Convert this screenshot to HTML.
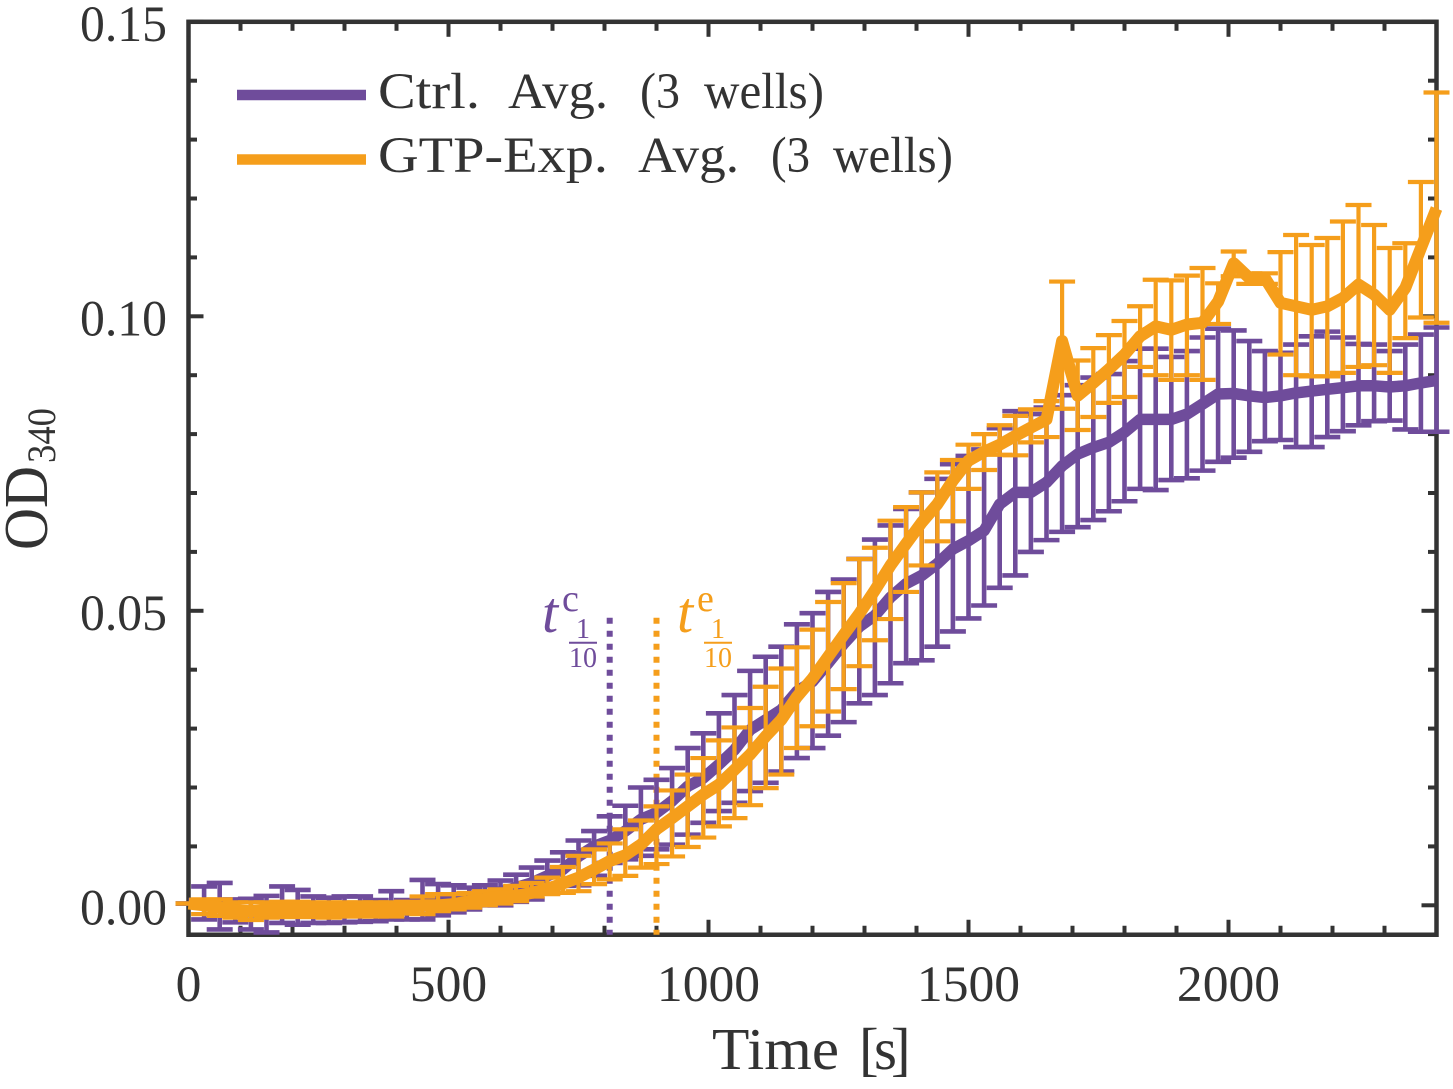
<!DOCTYPE html>
<html lang="en">
<head>
<meta charset="utf-8">
<title>OD340 vs Time</title>
<style>
html,body{margin:0;padding:0;background:#fff;width:1453px;height:1089px;overflow:hidden}
svg{display:block}
text{font-family:"Liberation Serif",serif;fill:#333}
</style>
</head>
<body>
<svg id="chart" xmlns="http://www.w3.org/2000/svg" width="1453" height="1089" viewBox="0 0 1453 1089">
  <g id="axes"></g>
  <g id="markers"></g>
  <g id="series"></g>

  <g>
    <line x1="237" x2="366" y1="95" y2="95" stroke="#6f4c9b" stroke-width="10.5"/>
    <g>
      <text x="378" y="108" font-size="51" textLength="102" lengthAdjust="spacingAndGlyphs">Ctrl.</text>
      <text x="508" y="108" font-size="51" textLength="100" lengthAdjust="spacingAndGlyphs">Avg.</text>
      <text x="640" y="108" font-size="51" textLength="40" lengthAdjust="spacingAndGlyphs">(3</text>
      <text x="704" y="108" font-size="51" textLength="120" lengthAdjust="spacingAndGlyphs">wells)</text>
    </g>
    <line x1="237" x2="366" y1="159.5" y2="159.5" stroke="#f59e1b" stroke-width="10.5"/>
    <g>
      <text x="378" y="172" font-size="51" textLength="230" lengthAdjust="spacingAndGlyphs">GTP-Exp.</text>
      <text x="638" y="172" font-size="51" textLength="101" lengthAdjust="spacingAndGlyphs">Avg.</text>
      <text x="771" y="172" font-size="51" textLength="39" lengthAdjust="spacingAndGlyphs">(3</text>
      <text x="833" y="172" font-size="51" textLength="120" lengthAdjust="spacingAndGlyphs">wells)</text>
    </g>
  </g>

  <g>
    <text x="542" y="632" font-size="58" font-style="italic" style="fill:#6f4c9b">t</text>
    <text x="562" y="611" font-size="38" style="fill:#6f4c9b">c</text>
    <text x="583" y="638" font-size="28" text-anchor="middle" style="fill:#6f4c9b">1</text>
    <line x1="569" x2="597" y1="642.7" y2="642.7" stroke="#6f4c9b" stroke-width="2"/>
    <text x="583" y="667" font-size="28" text-anchor="middle" style="fill:#6f4c9b">10</text>
  </g>
  <g>
    <text x="677" y="632" font-size="58" font-style="italic" style="fill:#f59e1b">t</text>
    <text x="697" y="611" font-size="38" style="fill:#f59e1b">e</text>
    <text x="718" y="638" font-size="28" text-anchor="middle" style="fill:#f59e1b">1</text>
    <line x1="704" x2="732" y1="642.7" y2="642.7" stroke="#f59e1b" stroke-width="2"/>
    <text x="718" y="667" font-size="28" text-anchor="middle" style="fill:#f59e1b">10</text>
  </g>

  <g>
    <text x="712" y="1069" font-size="59" textLength="127" lengthAdjust="spacingAndGlyphs">Time</text>
    <text x="859 874 891" y="1069" font-size="59">[s]</text>
  </g>
  <g>
    <text transform="translate(47,550) rotate(-90)" font-size="62" textLength="84" lengthAdjust="spacingAndGlyphs">OD</text>
    <text transform="translate(55,463) rotate(-90)" font-size="40" textLength="55" lengthAdjust="spacingAndGlyphs">340</text>
  </g>
</svg>

<script>
// Values. OD values are in milli-OD (OD x 1000).
const timesSec = [
  0,30,60,90,120,150,180,210,240,270,
  300,330,360,390,420,450,480,510,540,570,
  600,630,660,690,720,750,780,810,840,870,
  900,930,960,990,1020,1050,1080,1110,1140,1170,
  1200,1230,1260,1290,1320,1350,1380,1410,1440,1470,
  1500,1530,1560,1590,1620,1650,1680,1710,1740,1770,
  1800,1830,1860,1890,1920,1950,1980,2010,2040,2070,
  2100,2130,2160,2190,2220,2250,2280,2310,2340,2370,
  2400];
const ctrlMean = [
  .3,.3,0,-.8,-1.1,-1.1,-.85,-.85,-.85,-.85,
  -.85,-.85,-.85,-.4,-.4,.3,.7,1,1.3,1.6,
  2.3,3,3.8,5,6.1,8.3,10,11,12.6,14.6,
  15.7,17.7,20.2,21.6,23.9,26.4,29.8,31.5,33.2,36.3,
  38,41.1,44.4,47.3,49.2,52.3,54.6,56,58,60.5,
  61.9,63.6,68.1,70.1,70.1,71.8,74.6,76.6,77.7,78.6,
  80.3,82.5,82.5,82.5,83.4,85.1,86.8,86.9,86.5,86.2,
  86.5,87,87.3,87.6,87.9,88.2,88.2,88,88.2,88.7,
  89.1];
const ctrlUpper = [
  .3,3.2,3.8,1,1.1,1.6,3.2,2.6,1.5,1.3,
  1.5,1.5,.9,2.4,.9,4.3,3.6,3.4,3,3.4,
  4.2,5.2,6.4,7.6,9,11,12.6,15.1,16.9,20,
  21.3,23.3,26.7,29.2,32.6,35.7,39.8,42.2,43.9,47.7,
  49.6,53.2,55.3,58.8,62.1,64.5,67.3,70.1,72.4,74.9,
  76.3,77.4,81,83.9,83.4,84.5,86.6,88.3,89.6,90.2,
  92.4,94.5,94.5,93.1,94.1,96.4,97.9,97.6,95.8,94.1,
  93.8,95.2,96.6,97.4,96.4,95.3,95.2,94.1,95.2,96.9,
  98.1];
const ctrlLower = [
  .3,-2.4,-4.1,-2.9,-4.1,-4.6,-3,-3.3,-3,-3,
  -2.9,-2.8,-2.7,-2.4,-2.4,-2.4,-1.7,-1.2,-.7,0,
  0,.6,1,2.1,3.3,3.4,5,7.2,7.8,8.4,
  9.5,10.3,12,14,16,17.4,19.4,20.8,22.7,25,
  26.7,28.8,31.1,34.3,35.7,37.7,41.1,41.6,43.9,46.5,
  48.7,50.9,53.9,56,60,62,63.4,64.2,65.4,66.9,
  68.6,70.7,70.5,72.2,72.5,73.8,75.3,76,77,78.8,
  79,77.8,77.8,79.5,80.5,81.5,82.2,82.3,80.8,80.4,
  80.4];
const expMean = [
  .3,0,-.4,-.85,-1,-.8,-.7,-.7,-.8,-.8,
  -.7,-.7,-.7,-.7,-.4,0,0,.2,.7,1.1,
  1.5,1.6,2.1,2.8,3.7,4.7,6.1,7.5,8.5,10.3,
  12.9,14.8,16.8,18.8,20.5,23,25.6,28.7,31.5,35.4,
  38.5,42.2,45.9,49.5,53.5,57.7,61.4,65,68.1,72.1,
  75.5,77,78.2,79.7,81.1,82.5,95.8,86.5,88.7,91,
  93.5,96.6,98.3,97.7,98.6,98.9,102.5,109,106.5,106.5,
  102.3,101.7,101.1,101.7,103.1,105.4,103.7,101.1,104.8,111.6,
  118.3];
const expUpper = [
  .3,1,1,.5,.5,.5,.6,.6,.5,.5,
  .5,.5,.5,.5,.6,1.5,1.9,1.9,2.1,2.4,
  2.7,3.3,3.8,4.7,6.5,8.4,9.5,10.5,12.9,14.4,
  16.8,19.5,22.2,25,28,30.2,33.5,37.1,40.2,43.8,
  46.8,51.5,54.7,58.8,60.7,65.3,67.6,70.1,73.5,75.6,
  78.2,80,81.5,83.1,84.2,85.6,105.9,92.5,94.6,96.8,
  99.2,101.7,106.2,106.1,106.9,108.2,105.6,111,107.3,107.3,
  110.9,113.8,112.1,113.3,116.1,118.9,115.5,111.6,112.4,122.8,
  138];
const expLower = [
  .3,-1.5,-1.8,-2.1,-2.5,-2.1,-2,-2,-2,-2.1,
  -1.9,-1.9,-1.9,-1.9,-1.4,-1.5,-1,-.7,-.4,0,
  .3,.7,1.5,1.9,2.1,2.4,3.6,4.4,5,6.4,
  7,8.3,9.9,11.5,13.4,14.8,17,19.9,22.2,26.7,
  30.4,32.9,36.7,40.6,45,48.6,53.2,57.7,61.8,65.2,
  70.7,73.9,76.5,76.4,78.6,79.5,84.3,80.7,82.9,85.3,
  86.3,91.4,90,89.2,90,89.2,98.7,106.8,105.5,105.5,
  93.5,90,89.8,89.8,90.4,91.4,91.7,90.4,96.3,99.8,
  98.9];
const xMajorTicks = [0,500,1000,1500,2000];
const xMajorLabels = ['0','500','1000','1500','2000'];
const xMinorTicks = [100,200,300,400,600,700,800,900,1100,1200,1300,1400,1600,1700,1800,1900,2100,2200,2300];
const yMajorTicks = [0,50,100,150];
const yMajorLabels = ['0.00','0.05','0.10','0.15'];
const yMinorTicks = [10,20,30,40,60,70,80,90,110,120,130,140];
const ctrlHalfTime = 810;
const expHalfTime = 900;
const markerTopValue = 50;

const NS = 'http://www.w3.org/2000/svg';
const PURPLE = '#6f4c9b';
const ORANGE = '#f59e1b';
const AXIS = '#333333';
const xDomainMax = 2400;
const yDomainMin = -5;
const yDomainMax = 150;
const plotLeft = 188.5;
const plotWidth = 1248;
const yZero = 905.3;
const yPerUnit = 5.89;
function xScale(t){ return plotLeft + t / xDomainMax * plotWidth; }
function yScale(v){ return yZero - v * yPerUnit; }
const plotRight = xScale(xDomainMax);
const plotTop = yScale(yDomainMax);
const plotBottom = yScale(yDomainMin);

function addLine(parent, x1, y1, x2, y2, color, width){
  const el = document.createElementNS(NS, 'line');
  el.setAttribute('x1', x1);
  el.setAttribute('y1', y1);
  el.setAttribute('x2', x2);
  el.setAttribute('y2', y2);
  el.setAttribute('stroke', color);
  el.setAttribute('stroke-width', width);
  parent.appendChild(el);
  return el;
}

const axes = document.getElementById('axes');

const box = document.createElementNS(NS, 'rect');


box.setAttribute('x', plotLeft);
box.setAttribute('y', plotTop);
box.setAttribute('width', plotRight - plotLeft);
box.setAttribute('height', plotBottom - plotTop);
box.setAttribute('fill', 'none');
box.setAttribute('stroke', AXIS);
box.setAttribute('stroke-width', 4.5);
axes.appendChild(box);

xMinorTicks.forEach(function(t){
  const a = addLine(axes, xScale(t), plotBottom, xScale(t), plotBottom - 9, AXIS, 4);
  
  
  const b = addLine(axes, xScale(t), plotTop, xScale(t), plotTop + 9, AXIS, 4);
  
  
});
xMajorTicks.forEach(function(t, i){
  const a = addLine(axes, xScale(t), plotBottom, xScale(t), plotBottom - 15, AXIS, 4);
  
  
  const b = addLine(axes, xScale(t), plotTop, xScale(t), plotTop + 15, AXIS, 4);
  
  
  const label = document.createElementNS(NS, 'text');
  
  
  label.setAttribute('x', xScale(t));
  label.setAttribute('y', 1001);
  label.setAttribute('font-size', 51);
  label.setAttribute('text-anchor', 'middle');
  label.setAttribute('textLength', xMajorLabels[i].length * 25.8);
  label.setAttribute('lengthAdjust', 'spacingAndGlyphs');
  label.textContent = xMajorLabels[i];
  axes.appendChild(label);
});
yMinorTicks.forEach(function(v){
  const a = addLine(axes, plotLeft, yScale(v), plotLeft + 8.5, yScale(v), AXIS, 4);
  
  
  const b = addLine(axes, plotRight, yScale(v), plotRight - 8.5, yScale(v), AXIS, 4);
  
  
});
yMajorTicks.forEach(function(v, i){
  const a = addLine(axes, plotLeft, yScale(v), plotLeft + 15, yScale(v), AXIS, 4);
  
  
  const b = addLine(axes, plotRight, yScale(v), plotRight - 15, yScale(v), AXIS, 4);
  
  
  const label = document.createElementNS(NS, 'text');
  
  
  label.setAttribute('x', 167);
  label.setAttribute('y', yScale(v) + 19);
  label.setAttribute('font-size', 51);
  label.setAttribute('text-anchor', 'end');
  label.setAttribute('textLength', 87);
  label.setAttribute('lengthAdjust', 'spacingAndGlyphs');
  label.textContent = yMajorLabels[i];
  axes.appendChild(label);
});

const markers = document.getElementById('markers');
const ctrlMarker = addLine(markers, xScale(ctrlHalfTime), yScale(markerTopValue), xScale(ctrlHalfTime), plotBottom, PURPLE, 6);


ctrlMarker.setAttribute('stroke-dasharray', '6 7');
ctrlMarker.setAttribute('stroke-dashoffset', '6');
const expMarker = addLine(markers, xScale(expHalfTime), yScale(markerTopValue), xScale(expHalfTime), plotBottom, ORANGE, 6);


expMarker.setAttribute('stroke-dasharray', '6 7');
expMarker.setAttribute('stroke-dashoffset', '6');

function drawSeries(key, color, mean, upper, lower, barWidth, lineWidth){
  const group = document.createElementNS(NS, 'g');
  
  
  document.getElementById('series').appendChild(group);
  timesSec.forEach(function(t, i){
    const x = xScale(t);
    const stem = addLine(group, x, yScale(upper[i]), x, yScale(lower[i]), color, barWidth);
    
    
    const capTop = addLine(group, x - 13, yScale(upper[i]), x + 13, yScale(upper[i]), color, barWidth);
    
    
    const capBottom = addLine(group, x - 13, yScale(lower[i]), x + 13, yScale(lower[i]), color, barWidth);
    
    
  });
  const path = document.createElementNS(NS, 'polyline');
  
  
  path.setAttribute('points', timesSec.map(function(t, i){
    return xScale(t).toFixed(1) + ',' + yScale(mean[i]).toFixed(1);
  }).join(' '));
  path.setAttribute('fill', 'none');
  path.setAttribute('stroke', color);
  path.setAttribute('stroke-width', lineWidth);
  path.setAttribute('stroke-linejoin', 'round');
  group.appendChild(path);
}
drawSeries('ctrl', PURPLE, ctrlMean, ctrlUpper, ctrlLower, 4.6, 11.5);
drawSeries('gtp-exp', ORANGE, expMean, expUpper, expLower, 4.2, 12);
</script>
</body>
</html>
